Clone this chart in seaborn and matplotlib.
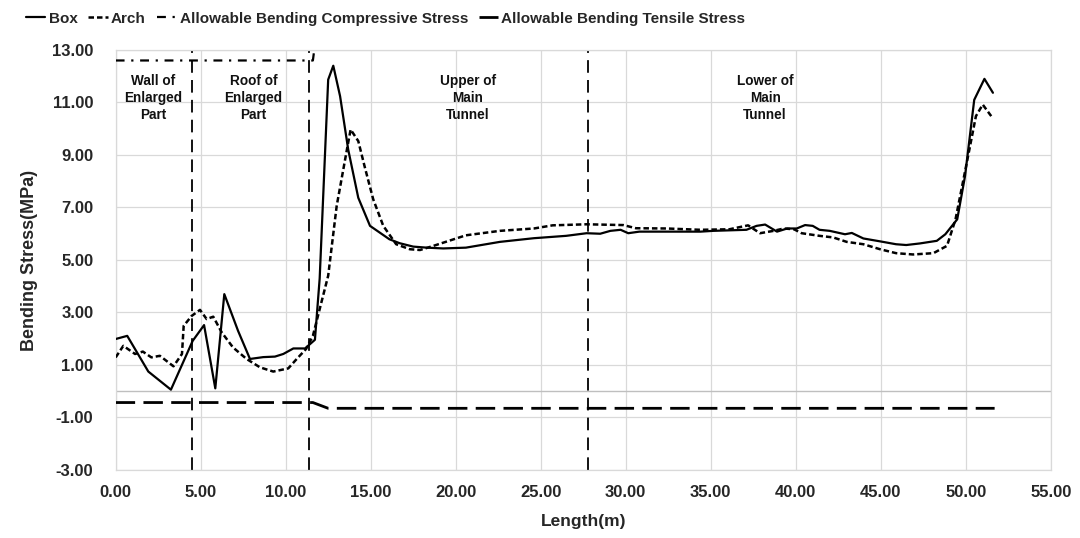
import matplotlib
matplotlib.use("Agg")
import matplotlib.pyplot as plt
import seaborn as sns
import numpy as np
import pandas as pd
from matplotlib.lines import Line2D

# ---------------- data ----------------
box_x = [0.0, 0.68, 1.92, 3.25, 4.53, 5.2, 5.86, 6.39, 7.2, 7.9, 8.68, 9.37, 9.86, 10.45, 11.14, 11.72,
         12.0, 12.5, 12.8, 13.2, 13.68, 14.27, 14.96, 16.1, 16.7, 17.5, 18.3, 19.27, 20.6, 22.6, 24.6,
         26.5, 27.7, 28.5, 29.1, 29.7, 30.15, 30.8, 32.4, 34.4, 35.15, 37.1, 37.7, 38.2, 38.9, 39.5,
         40.06, 40.55, 41.0, 41.4, 42.0, 42.9, 43.3, 43.98, 44.96, 45.9, 46.5, 47.3, 48.3, 48.8, 49.5,
         49.96, 50.5, 51.1, 51.6]
box_y = [1.99, 2.11, 0.75, 0.06, 1.92, 2.52, 0.11, 3.70, 2.3, 1.23, 1.30, 1.32, 1.42, 1.63, 1.63, 1.96,
         4.3, 11.87, 12.4, 11.24, 9.2, 7.37, 6.3, 5.79, 5.64, 5.51, 5.47, 5.44, 5.47, 5.69, 5.83,
         5.92, 6.02, 6.0, 6.11, 6.15, 6.02, 6.08, 6.08, 6.08, 6.11, 6.15, 6.3, 6.35, 6.08, 6.2,
         6.2, 6.33, 6.3, 6.15, 6.11, 5.98, 6.03, 5.82, 5.71, 5.6, 5.57, 5.63, 5.73, 5.98, 6.55,
         8.2, 11.1, 11.9, 11.37]

arch_x = [0.0, 0.45, 1.14, 1.6, 2.1, 2.6, 3.4, 3.9, 4.0, 4.47, 4.96, 5.35, 5.74, 6.24, 6.9, 7.7, 8.49,
          9.27, 10.15, 10.65, 11.2, 11.6, 12.0, 12.5, 13.0, 13.6, 13.82, 14.27, 14.66, 15.15, 15.74,
          16.5, 17.3, 17.9, 18.7, 20.6, 22.6, 24.6, 25.7, 27.7, 29.86, 30.6, 32.4, 34.4, 36.1, 37.2,
          37.9, 38.7, 39.3, 39.9, 40.35, 41.4, 42.2, 43.0, 43.98, 44.96, 45.9, 46.9, 48.1, 48.9, 49.4,
          50.06, 50.6, 51.0, 51.5]
arch_y = [1.29, 1.73, 1.42, 1.51, 1.29, 1.35, 0.95, 1.42, 2.49, 2.87, 3.1, 2.75, 2.84, 2.24, 1.67, 1.23, 0.91,
          0.75, 0.87, 1.23, 1.61, 2.11, 3.13, 4.4, 7.06, 9.2, 9.97, 9.53, 8.52, 7.31, 6.3,
          5.6, 5.41, 5.38, 5.54, 5.94, 6.11, 6.2, 6.32, 6.36, 6.33, 6.21, 6.2, 6.15, 6.17, 6.32,
          6.02, 6.11, 6.2, 6.17, 6.02, 5.92, 5.86, 5.69, 5.6, 5.41, 5.26, 5.21, 5.26, 5.54, 6.55,
          8.7, 10.48, 10.92, 10.48]

comp_x = [0.0, 11.6, 11.8]
comp_y = [12.6, 12.6, 13.6]

tens_x = [0.0, 11.6, 12.5, 51.7]
tens_y = [-0.43, -0.43, -0.65, -0.65]

section_x = [4.5, 11.4, 27.8]
section_labels = ["Wall of\nEnlarged\nPart", "Roof of\nEnlarged\nPart", "Upper of\nMain\nTunnel", "Lower of\nMain\nTunnel"]
section_label_x = [2.2, 8.1, 20.7, 38.2]

x_ticks = [0, 5, 10, 15, 20, 25, 30, 35, 40, 45, 50, 55]
y_ticks = [-3, -1, 1, 3, 5, 7, 9, 11, 13]

series_names = ["Box", "Arch", "Allowable Bending Compressive Stress", "Allowable Bending Tensile Stress"]

# ---------------- figure ----------------
sns.set_theme(style="white")
plt.rcParams['font.family'] = ['Liberation Sans', 'DejaVu Sans']

fig = plt.figure(figsize=(10.8, 5.38), dpi=100)
ax = fig.add_axes([0.1071, 0.1264, 0.8658, 0.7807])

grid_c = "#d9d9d9"
for xv in x_ticks:
    ax.axvline(xv, color=grid_c, lw=0.9, zorder=0)
for yv in y_ticks:
    ax.axhline(yv, color=grid_c, lw=0.9, zorder=0)
ax.axhline(0, color="#bfbfbf", lw=1.0, zorder=0)

sns.lineplot(x=box_x, y=box_y, ax=ax, color="black", lw=1.6, sort=False, estimator=None, zorder=3)
sns.lineplot(x=arch_x, y=arch_y, ax=ax, color="black", lw=1.8, sort=False, estimator=None,
             dashes=False, zorder=3)
ax.lines[-1].set_dashes([2.2, 1.2])
sns.lineplot(x=comp_x, y=comp_y, ax=ax, color="black", lw=1.6, sort=False, estimator=None, zorder=3)
ax.lines[-1].set_dashes([4, 3, 1, 3])
sns.lineplot(x=tens_x, y=tens_y, ax=ax, color="black", lw=2.0, sort=False, estimator=None, zorder=3)
ax.lines[-1].set_dashes([7, 3])

for sx in section_x:
    ax.axvline(sx, color="black", lw=1.3, dashes=(7, 4), zorder=2)

for lbl, lx in zip(section_labels, section_label_x):
    ax.text(lx, 12.1, lbl, ha="center", va="top", fontsize=9.8, fontweight="bold",
            family=['Liberation Sans'], linespacing=1.3, color="#111111")

ax.set_xlim(0, 55)
ax.set_ylim(-3, 13)
ax.set_xticks(x_ticks)
ax.set_yticks(y_ticks)
ax.set_xticklabels([f"{v:.2f}" for v in x_ticks])
ax.set_yticklabels([f"{v:.2f}" for v in y_ticks])
ax.tick_params(axis="y", length=0, labelsize=12, pad=16)
ax.tick_params(axis="x", length=0, labelsize=12, pad=11)
for lab in ax.get_xticklabels() + ax.get_yticklabels():
    lab.set_fontweight("bold")
ax.set_xlabel("Length(m)", fontsize=12.5, fontweight="bold", labelpad=10)
ax.set_ylabel("Bending Stress(MPa)", fontsize=13, fontweight="bold", labelpad=10)

for sp in ax.spines.values():
    sp.set_visible(True)
    sp.set_color(grid_c)
    sp.set_linewidth(0.9)

handles = [
    Line2D([], [], color="black", lw=1.6),
    Line2D([], [], color="black", lw=1.8, dashes=[2.2, 1.2]),
    Line2D([], [], color="black", lw=1.6, dashes=[4, 3, 1, 3]),
    Line2D([], [], color="black", lw=2.0, dashes=[7, 3]),
]
leg = fig.legend(handles, series_names, loc="center", bbox_to_anchor=(0.357, 0.965), ncol=4, frameon=False,
                 handlelength=1.3, handletextpad=0.2, columnspacing=0.7,
                 prop={"weight": "bold", "size": 11})

fig.savefig("out.png", dpi=100)
